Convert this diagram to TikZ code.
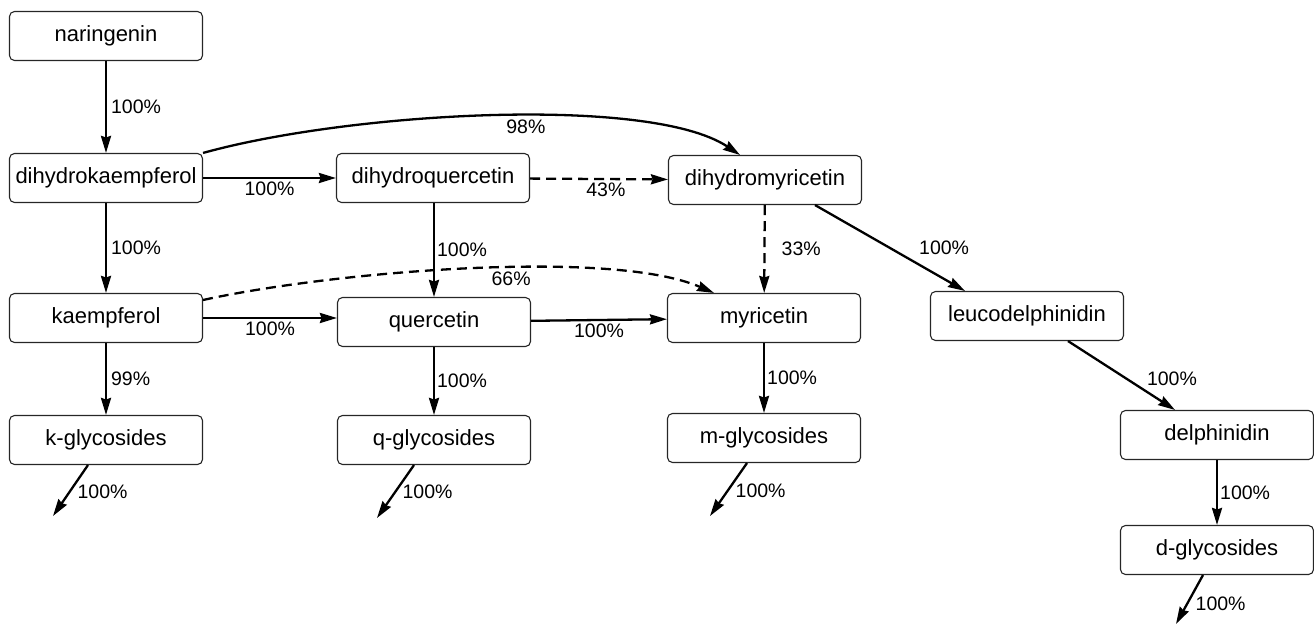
\documentclass[tikz,border=0pt]{standalone}
\usepackage{fontspec}
\setmainfont{Liberation Sans}
\usetikzlibrary{arrows.meta,calc}
\begin{document}
\begin{tikzpicture}[x=1pt,y=-1pt,
  box/.style={draw=black!85, line width=1.1pt, rounded corners=5pt, minimum width=193pt, minimum height=49pt, inner sep=0pt, font=\fontsize{22}{25}\selectfont},
  arr/.style={line width=2.3pt, -{Stealth[length=17pt,width=10pt,inset=1.5pt]}},
  dsh/.style={arr, dash pattern=on 10pt off 6pt},
  lbl/.style={font=\fontsize{19.5}{22}\selectfont, inner sep=2pt}]
\useasboundingbox (0,0) rectangle (1314,626);
% nodes
\node[box] (nar) at (106,36) {naringenin};
\node[box] (dhk) at (106,178) {dihydrokaempferol};
\node[box] (dhq) at (433,178) {dihydroquercetin};
\node[box] (dhm) at (765,180) {dihydromyricetin};
\node[box] (kae) at (106,318) {kaempferol};
\node[box] (que) at (434,322) {quercetin};
\node[box] (myr) at (764,318) {myricetin};
\node[box] (leu) at (1027,316) {leucodelphinidin};
\node[box] (kgl) at (106,440) {k-glycosides};
\node[box] (qgl) at (434,440) {q-glycosides};
\node[box] (mgl) at (764,438) {m-glycosides};
\node[box] (del) at (1217,435) {delphinidin};
\node[box] (dgl) at (1217,550) {d-glycosides};
\coordinate (kout) at (53,516);
\coordinate (qout) at (377,518);
\coordinate (mout) at (710,516);
\coordinate (dout) at (1176,624);
% connectors
\draw[arr] (nar) -- node[lbl, midway, right, xshift=2pt] {100\%} (dhk);
\draw[arr] (dhk) -- node[lbl, midway, below, yshift=-1pt] {100\%} (dhq);
\draw[arr] (dhk.north east) .. controls (350,112) and (650,95) .. node[lbl, pos=0.5, below, yshift=-1pt, xshift=33pt] {98\%} ([xshift=-25pt]dhm.north);
\draw[dsh] (dhq) -- node[lbl, pos=0.55, below, yshift=-1pt] {43\%} (dhm);
\draw[arr] (dhk) -- node[lbl, midway, right, xshift=2pt] {100\%} (kae);
\draw[arr] (dhq.south -| que) -- node[lbl, midway, right, xshift=0pt] {100\%} (que);
\draw[dsh] ([yshift=18pt]kae.east) .. controls (330,272) and (610,248) .. node[lbl, pos=0.5, below, yshift=0pt, xshift=44pt] {66\%} ([xshift=-50pt]myr.north);
\draw[dsh] (dhm) -- node[lbl, midway, right, xshift=14pt] {33\%} (myr);
\draw[arr] ([xshift=50pt]dhm.south) -- node[lbl, midway, anchor=west, xshift=26pt] {100\%} ([xshift=-62pt]leu.north);
\draw[arr] (kae.east) -- node[lbl, midway, below, yshift=-1pt] {100\%} (que.west |- kae.east);
\draw[arr] (que) -- node[lbl, midway, below, yshift=-1pt] {100\%} (myr);
\draw[arr] (kae) -- node[lbl, midway, right, xshift=2pt] {99\%} (kgl);
\draw[arr] (que) -- node[lbl, midway, right, xshift=0pt] {100\%} (qgl);
\draw[arr] (myr) -- node[lbl, midway, right, xshift=0pt] {100\%} (mgl);
\draw[arr] ([xshift=41pt]leu.south) -- node[lbl, pos=0.7, anchor=south west, xshift=1pt] {100\%} ([xshift=-42pt]del.north);
\draw[arr] (del) -- node[lbl, midway, right, xshift=0pt] {100\%} (dgl);
\draw[arr] ([xshift=-18pt]kgl.south) -- node[lbl, midway, anchor=west, xshift=4pt, yshift=-1pt] {100\%} (kout);
\draw[arr] ([xshift=-20pt]qgl.south) -- node[lbl, midway, anchor=west, xshift=4pt, yshift=0pt] {100\%} (qout);
\draw[arr] ([xshift=-17pt]mgl.south) -- node[lbl, midway, anchor=west, xshift=4pt, yshift=-1pt] {100\%} (mout);
\draw[arr] ([xshift=-14pt]dgl.south) -- node[lbl, midway, anchor=west, xshift=3pt, yshift=-4pt] {100\%} (dout);
\end{tikzpicture}
\end{document}
